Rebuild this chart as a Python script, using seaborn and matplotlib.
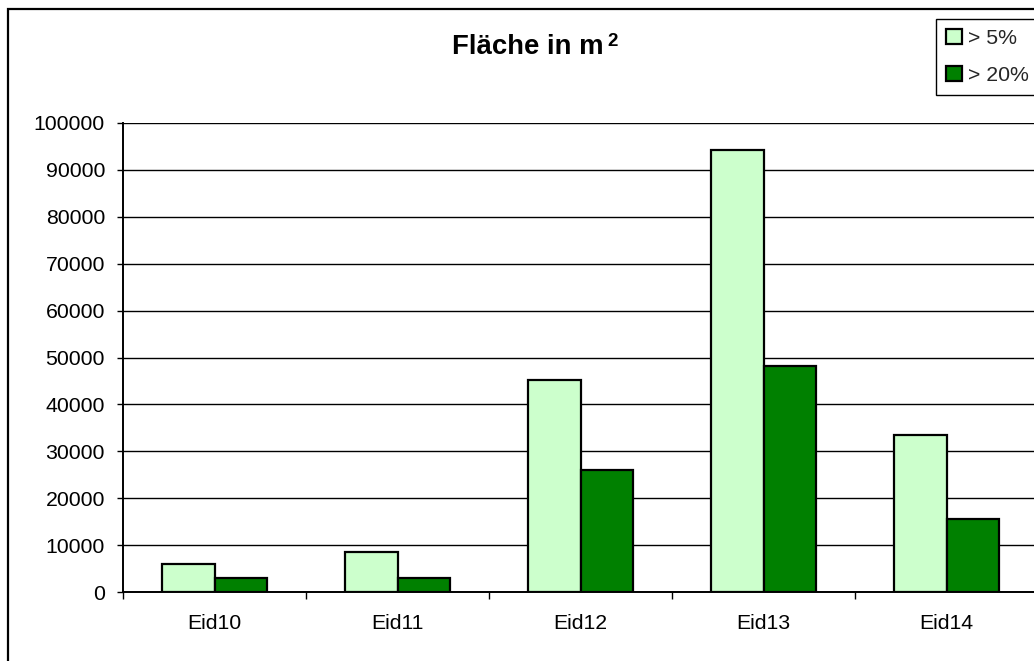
import matplotlib
matplotlib.use("Agg")
import matplotlib.pyplot as plt
import matplotlib.transforms as mtransforms
import seaborn as sns
import pandas as pd
from matplotlib.patches import Rectangle
from matplotlib.ticker import FixedLocator

categories = ["Eid10", "Eid11", "Eid12", "Eid13", "Eid14"]
series_names = ["> 5%", "> 20%"]
values_5 = [6000, 8600, 45200, 94300, 33400]
values_20 = [3000, 3000, 26000, 48200, 15600]
yticks = [0, 10000, 20000, 30000, 40000, 50000, 60000, 70000, 80000, 90000, 100000]
title_main = "Fläche in m"
title_sup = "2"

df = pd.DataFrame({
    "cat": categories * 2,
    "series": [series_names[0]] * len(categories) + [series_names[1]] * len(categories),
    "value": values_5 + values_20,
})

sns.set_theme(style="white")
plt.rcParams["font.family"] = ["Liberation Sans", "DejaVu Sans"]

W, H = 1034, 661
fig = plt.figure(figsize=(W / 100, H / 100), dpi=100)
fig.patch.set_facecolor("white")
ax_left, ax_right, ax_top, ax_bottom = 123, 1038, 123, 592
ax = fig.add_axes([ax_left / W, (H - ax_bottom) / H, (ax_right - ax_left) / W, (ax_bottom - ax_top) / H])

palette = {series_names[0]: "#CCFFCC", series_names[1]: "#008000"}
sns.barplot(data=df, x="cat", y="value", hue="series", order=categories,
            hue_order=series_names, palette=palette, width=0.57, gap=0,
            edgecolor="black", linewidth=1.6, saturation=1, ax=ax, legend=True, zorder=3)

ax.set_xlim(-0.5, len(categories) - 0.5)
ax.set_ylim(yticks[0], yticks[-1])
ax.set_yticks(yticks)
ax.set_yticklabels([str(v) for v in yticks])
ax.yaxis.grid(True, color="black", linewidth=1.0, zorder=0)
ax.set_axisbelow(True)
ax.set_xlabel("")
ax.set_ylabel("")

for side in ["top", "right"]:
    ax.spines[side].set_visible(False)
for side in ["left", "bottom"]:
    ax.spines[side].set_visible(True)
    ax.spines[side].set_color("black")
    ax.spines[side].set_linewidth(1.4)

fs = 15.3
ax.tick_params(axis="y", which="major", direction="out", length=4.5, width=1,
               color="black", pad=8.5, labelsize=fs, labelcolor="black", left=True)
ax.tick_params(axis="x", which="major", length=0, pad=15.5, labelsize=fs, labelcolor="black", bottom=True)
ax.xaxis.set_minor_locator(FixedLocator([i + 0.5 for i in range(-1, len(categories))]))
ax.tick_params(axis="x", which="minor", direction="out", length=5, width=1, color="black", bottom=True)

# legend
handles, labels = ax.get_legend_handles_labels()
ax.legend(handles, labels, loc="upper left", bbox_to_anchor=(936 / W, 1 - 19 / H),
          bbox_transform=fig.transFigure, frameon=True, fancybox=False,
          edgecolor="black", fontsize=fs, handlelength=0.75, handleheight=0.75,
          handletextpad=0.3, labelspacing=0.85, borderpad=0.45, borderaxespad=0,
          framealpha=1)
ax.get_legend().get_frame().set_linewidth(1.0)

t = fig.text(528 / W, 1 - 47 / H, title_main, ha="center", va="center", fontsize=19.8,
             fontweight="bold", color="black")
sup = fig.text(0, 0, title_sup, fontsize=13.5, fontweight="bold", color="black",
               ha="left", va="top")
fig.canvas.draw()
bb = t.get_window_extent()
sup.set_transform(mtransforms.IdentityTransform())
sup.set_position((bb.x1 + 4, bb.y1 + 1))

fig.patches.append(Rectangle((8 / W, -0.1), 1.2, (H - 9) / H + 0.1, transform=fig.transFigure,
                             fill=False, edgecolor="black", linewidth=1.6))

fig.savefig("out.png", dpi=100, facecolor="white")
